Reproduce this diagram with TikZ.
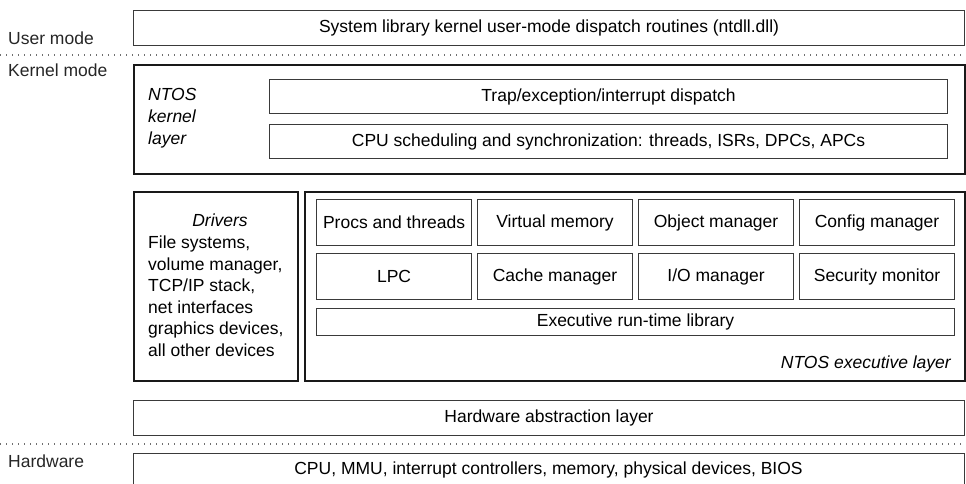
\documentclass[tikz,border=0pt]{standalone}
\usepackage{fontspec}
\setmainfont{Liberation Sans}
\usetikzlibrary{positioning}
\definecolor{boxgray}{HTML}{3A3A3A}
\definecolor{dotgray}{HTML}{707070}
\tikzset{
  thinbox/.style={draw=boxgray, line width=1.1pt, inner sep=0pt, anchor=north west},
  thickbox/.style={draw=black!90, line width=2.4pt, inner sep=0pt, anchor=north west},
  cell/.style={thinbox, minimum width=155, minimum height=46},
  modeline/.style={dotgray, line width=1.4pt, dash pattern=on 1.4pt off 4.6pt},
  modelabel/.style={anchor=base west, inner sep=0pt, text=black!85},
}

\begin{document}
\begin{tikzpicture}[x=1pt,y=-1pt,font=\fontsize{17.5}{21.5}\selectfont]
        \useasboundingbox (0,0) rectangle (966,484);
        % user mode
        \node[thinbox, minimum width=831, minimum height=35] (ntdll) at (133,10)
          {System library kernel user-mode dispatch routines (ntdll.dll)};
        \node[modelabel] (usermode) at (8,45) {User mode};
        \draw[modeline] (0,55) -- (966,55);
        \node[modelabel] (kernmode) at (8,77) {Kernel mode};
        % kernel layer
        \node[thickbox, minimum width=831, minimum height=109] (kernel) at (133,64) {};
        \node[anchor=north west, inner sep=0pt, align=left, font=\fontsize{17.5}{22}\selectfont\itshape]
          (kernlbl) at (148,88) {NTOS\\kernel\\layer};
        \node[thinbox, minimum width=678, minimum height=34] (trap) at (269,79)
          {Trap/exception/interrupt dispatch};
        \node[thinbox, minimum width=678, minimum height=34] (sched) at (269,124)
          {CPU scheduling and synchronization: threads, ISRs, DPCs, APCs};
        % drivers
        \node[thickbox, minimum width=164, minimum height=189] (drivers) at (133,191) {};
        \node[anchor=base, inner sep=0pt, font=\fontsize{17.5}{21.5}\selectfont\itshape]
          (drvlbl) at (220,226) {Drivers};
        \node[anchor=north west, inner sep=0pt, align=left] (drvlist) at (148,236)
          {File systems,\\volume manager,\\TCP/IP stack,\\net interfaces\\graphics devices,\\all other devices};
        % executive layer
        \node[thickbox, minimum width=660, minimum height=189] (exec) at (304,191) {};
        \node[cell] (procs) at (316,199) {Procs and threads};
        \node[cell] (vmem) at (477,199) {Virtual memory};
        \node[cell] (objmgr) at (638,199) {Object manager};
        \node[cell] (cfgmgr) at (799,199) {Config manager};
        \node[cell] (lpc) at (316,253) {LPC};
        \node[cell] (cachemgr) at (477,253) {Cache manager};
        \node[cell] (iomgr) at (638,253) {I/O manager};
        \node[cell] (secmon) at (799,253) {Security monitor};
        \node[thinbox, minimum width=638, minimum height=27] (rtl) at (316,308)
          {Executive run-time library};
        \node[anchor=base east, inner sep=0pt, font=\fontsize{17.5}{21.5}\selectfont\itshape]
          (execlbl) at (951,368) {NTOS executive layer};
        % HAL and hardware
        \node[thinbox, minimum width=831, minimum height=35] (hal) at (133,400)
          {Hardware abstraction layer};
        \draw[modeline] (0,444) -- (966,444);
        \node[modelabel] (hwlbl) at (8,467) {Hardware};
        \node[thinbox, minimum width=831, minimum height=40] (hw) at (133,453) {};
        \node[anchor=base, inner sep=0pt] (hwtxt) at (548.5,474)
          {CPU, MMU, interrupt controllers, memory, physical devices, BIOS};
      \end{tikzpicture}
\end{document}
